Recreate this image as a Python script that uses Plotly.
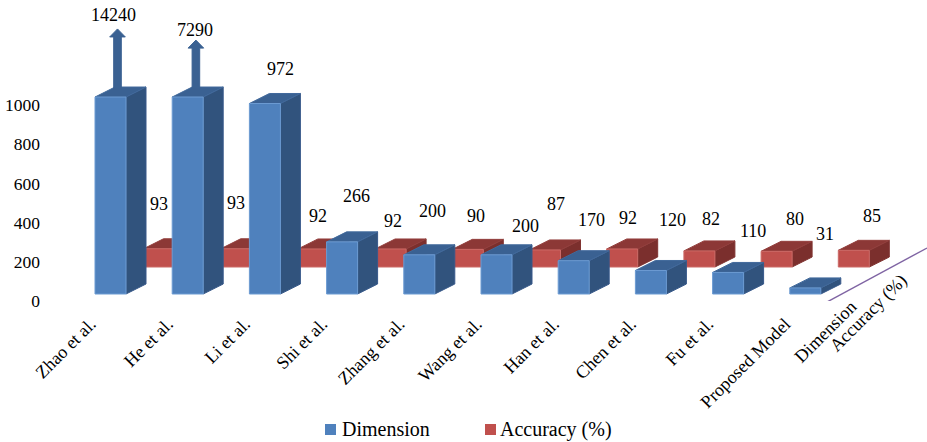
import plotly.graph_objects as go

studies = ["Zhao et al.", "He et al.", "Li et al.", "Shi et al.", "Zhang et al.",
           "Wang et al.", "Han et al.", "Chen et al.", "Fu et al.", "Proposed Model"]
dimension = [14240, 7290, 972, 266, 200, 200, 170, 120, 110, 31]
accuracy = [93, 93, 92, 92, 90, 87, 92, 82, 80, 85]
y_ticks = [0, 200, 400, 600, 800, 1000]

# Label placement relative to each bar's top (pixels right, pixels up)
dimension_label_shift = [(2.5, 82), (7.3, 67), (16, 34.5), (14.6, 46), (13.4, 44),
                         (28.5, 29), (17.3, 41), (22, 50), (25, 41), (20, 54)]
accuracy_label_shift = [(0, 45), (0, 46), (4.6, 33), (2, 28), (8, 33),
                        (11, 46), (6, 31), (12, 32), (18, 32), (18, 34)]

W, H = 927, 442
M_L, M_B = 46, 141
PX_PER_CAT = 77.2      # category spacing
PX_PER_UNIT = 0.196    # value axis scale
FONT = "Liberation Serif"

BREAK_VALUE = 1005     # taller bars are cut here and carry an arrow
BAR_W = 31 / PX_PER_CAT
DEPTH_X = 20 / PX_PER_CAT
DEPTH_Y = 10 / PX_PER_UNIT

# Oblique offset of each series row along the depth axis
BLUE_ROW = (0.0, 7 / PX_PER_UNIT)
RED_ROW = (48.5 / PX_PER_CAT, 34 / PX_PER_UNIT)


def cat_from_px(px):
    return (px - 110.5) / PX_PER_CAT


def val_from_py(py):
    return (301 - py) / PX_PER_UNIT


def paper_x(px):
    return (px - M_L) / (W - M_L)


def paper_y(py):
    return (H - M_B - py) / (H - M_B)


def prism_faces(values, row):
    """Return front, side and top outlines for one row of oblique bars."""
    front_x, front_y, side_x, side_y, top_x, top_y = [], [], [], [], [], []
    for i, v in enumerate(values):
        h = min(v, BREAK_VALUE)
        x0 = i + row[0] - BAR_W / 2
        x1 = x0 + BAR_W
        y0 = row[1]
        y1 = y0 + h
        front_x += [x0, x1, x1, x0, x0, None]
        front_y += [y0, y0, y1, y1, y0, None]
        side_x += [x1, x1 + DEPTH_X, x1 + DEPTH_X, x1, x1, None]
        side_y += [y0, y0 + DEPTH_Y, y1 + DEPTH_Y, y1, y0, None]
        top_x += [x0, x1, x1 + DEPTH_X, x0 + DEPTH_X, x0, None]
        top_y += [y1, y1, y1 + DEPTH_Y, y1 + DEPTH_Y, y1, None]
    return (front_x, front_y), (side_x, side_y), (top_x, top_y)


def add_face(fig, face, fill, edge):
    fig.add_trace(go.Scatter(x=face[0], y=face[1], mode="lines", fill="toself",
                             fillcolor=fill, line=dict(color=edge, width=1),
                             hoverinfo="skip", showlegend=False, cliponaxis=False))


fig = go.Figure()

# The back row is painted first so the front row covers it
red_front, red_side, red_top = prism_faces(accuracy, RED_ROW)
add_face(fig, red_side, "#7b2f2d", "#803432")
add_face(fig, red_top, "#8c3836", "#933f3d")
add_face(fig, red_front, "#c0504d", "#cc6a67")

blue_front, blue_side, blue_top = prism_faces(dimension, BLUE_ROW)
add_face(fig, blue_side, "#31537d", "#38598a")
add_face(fig, blue_top, "#3a6192", "#41699b")

# Arrows flag the two values that run past the axis break
arrow_bars = [0, 1]
arrow_offset_px = [7, 8.2]
arrow_tips = [1388, 1331]
ax, ay = [], []
for bar, off, tip in zip(arrow_bars, arrow_offset_px, arrow_tips):
    c = bar + off / PX_PER_CAT
    shaft = 3.8 / PX_PER_CAT
    head = 7.8 / PX_PER_CAT
    base = BLUE_ROW[1] + BREAK_VALUE + DEPTH_Y * 0.8
    neck = tip - 8 / PX_PER_UNIT
    ax += [c - shaft, c - shaft, c - head, c, c + head, c + shaft, c + shaft, c - shaft, None]
    ay += [base, neck, neck, tip, neck, neck, base, base, None]
add_face(fig, (ax, ay), "#3a6192", "#3a6192")
add_face(fig, blue_front, "#4f81bd", "#6c9bd2")

# Depth axis line
fig.add_trace(go.Scatter(x=[cat_from_px(827), cat_from_px(927)],
                         y=[val_from_py(302), val_from_py(248)],
                         mode="lines", line=dict(color="#7f64a3", width=1.4),
                         hoverinfo="skip", showlegend=False, cliponaxis=False))

annotations = []
for i, v in enumerate(dimension):
    dx, dy = dimension_label_shift[i]
    annotations.append(dict(x=i + BLUE_ROW[0], y=BLUE_ROW[1] + min(v, BREAK_VALUE),
                            text=str(v), showarrow=False, xshift=dx, yshift=dy))
for i, v in enumerate(accuracy):
    dx, dy = accuracy_label_shift[i]
    annotations.append(dict(x=i + RED_ROW[0], y=RED_ROW[1] + v,
                            text=str(v), showarrow=False, xshift=dx, yshift=dy))

# Series names along the depth axis
for name, px, py in (("Dimension", 825, 332), ("Accuracy (%)", 868, 313)):
    annotations.append(dict(x=paper_x(px), y=paper_y(py), xref="paper", yref="paper",
                            xanchor="center", yanchor="middle",
                            text=name, showarrow=False, textangle=-45))

# Legend keys set beneath the chart
shapes = []
for name, color, px, text_px in (("Dimension", "#4f81bd", 325, 340),
                                 ("Accuracy (%)", "#c0504d", 485, 498)):
    shapes.append(dict(type="rect", xref="paper", yref="paper",
                       x0=paper_x(px), x1=paper_x(px + 11),
                       y0=paper_y(435), y1=paper_y(424),
                       fillcolor=color, line=dict(width=0)))
    annotations.append(dict(x=paper_x(text_px), y=paper_y(429), xref="paper", yref="paper",
                            xanchor="left", yanchor="middle", text=name, showarrow=False,
                            font=dict(size=20)))

fig.update_layout(
    width=W, height=H,
    margin=dict(l=M_L, r=0, t=0, b=M_B, autoexpand=False),
    paper_bgcolor="white", plot_bgcolor="white",
    font=dict(family=FONT, size=18, color="black"),
    annotations=annotations,
    shapes=shapes,
    showlegend=False,
    xaxis=dict(range=[cat_from_px(M_L), cat_from_px(W)], showgrid=False, zeroline=False,
               showline=False, ticks="", tickmode="array",
               tickvals=[i - 20 / PX_PER_CAT for i in range(len(studies))],
               ticktext=studies, tickangle=-45, ticklabelstandoff=8,
               tickfont=dict(size=18)),
    yaxis=dict(range=[0, val_from_py(0)], showgrid=False, zeroline=False, showline=False,
               ticks="", tickmode="array", tickvals=y_ticks, ticklabelstandoff=5,
               ticktext=[str(t) for t in y_ticks], tickfont=dict(size=17.5)),
)

fig.write_html("out.html")
